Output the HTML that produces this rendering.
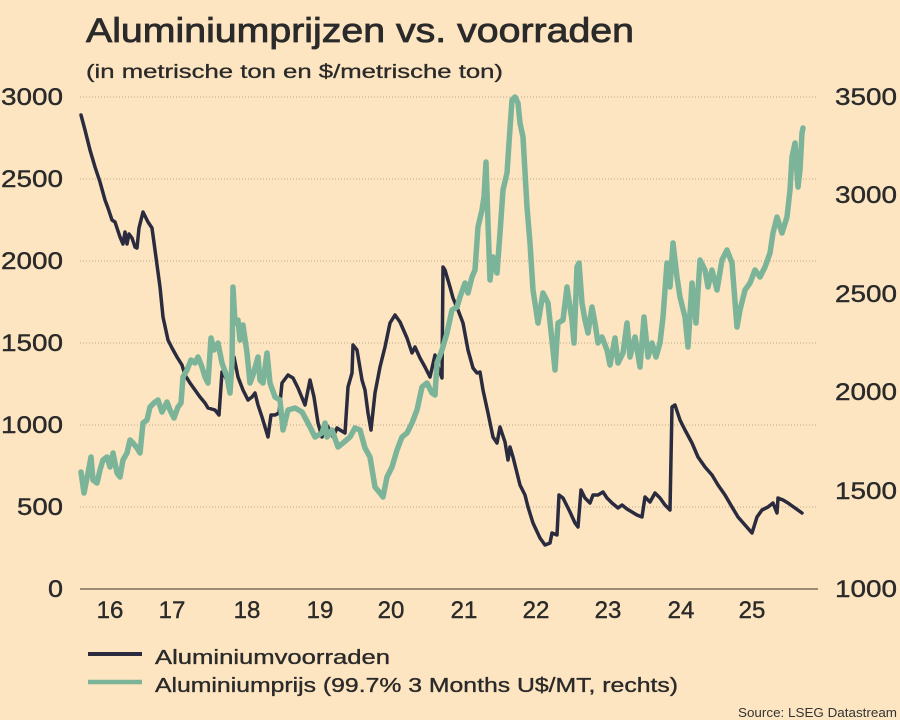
<!DOCTYPE html>
<html>
<head>
<meta charset="utf-8">
<style>
  html,body{margin:0;padding:0;background:#FCE5C0;}
  svg{display:block;}
  text{font-family:"Liberation Sans", sans-serif; fill:#2b2a2a;}
</style>
</head>
<body>
<svg width="900" height="720" viewBox="0 0 900 720" xmlns="http://www.w3.org/2000/svg">
  <rect x="0" y="0" width="900" height="720" fill="#FCE5C0"/>

  <!-- Title -->
  <text x="86" y="42" font-size="34" textLength="548" lengthAdjust="spacingAndGlyphs" stroke="#2b2a2a" stroke-width="0.8">Aluminiumprijzen vs. voorraden</text>
  <text x="86" y="78" font-size="19" textLength="417" lengthAdjust="spacingAndGlyphs" stroke="#2b2a2a" stroke-width="0.3">(in metrische ton en $/metrische ton)</text>

  <!-- Gridlines -->
  <g stroke="#b9a98f" stroke-width="1" stroke-dasharray="1,2">
    <line x1="80" y1="97" x2="818" y2="97"/>
    <line x1="80" y1="179" x2="818" y2="179"/>
    <line x1="80" y1="261" x2="818" y2="261"/>
    <line x1="80" y1="343" x2="818" y2="343"/>
    <line x1="80" y1="425" x2="818" y2="425"/>
    <line x1="80" y1="507" x2="818" y2="507"/>
  </g>
  <line x1="80" y1="589" x2="818" y2="589" stroke="#7d6e5b" stroke-width="1.5"/>

  <!-- Left axis labels -->
  <g font-size="24" stroke="#2b2a2a" stroke-width="0.4">
    <text x="1" y="105" textLength="62" lengthAdjust="spacingAndGlyphs">3000</text>
    <text x="1" y="187" textLength="62" lengthAdjust="spacingAndGlyphs">2500</text>
    <text x="1" y="269" textLength="62" lengthAdjust="spacingAndGlyphs">2000</text>
    <text x="1" y="351" textLength="62" lengthAdjust="spacingAndGlyphs">1500</text>
    <text x="1" y="433" textLength="62" lengthAdjust="spacingAndGlyphs">1000</text>
    <text x="17" y="515" textLength="46" lengthAdjust="spacingAndGlyphs">500</text>
    <text x="48" y="597" textLength="15" lengthAdjust="spacingAndGlyphs">0</text>
  </g>

  <!-- Right axis labels -->
  <g font-size="24" stroke="#2b2a2a" stroke-width="0.4">
    <text x="835" y="105" textLength="62" lengthAdjust="spacingAndGlyphs">3500</text>
    <text x="835" y="203" textLength="62" lengthAdjust="spacingAndGlyphs">3000</text>
    <text x="835" y="302" textLength="62" lengthAdjust="spacingAndGlyphs">2500</text>
    <text x="835" y="400" textLength="62" lengthAdjust="spacingAndGlyphs">2000</text>
    <text x="835" y="499" textLength="62" lengthAdjust="spacingAndGlyphs">1500</text>
    <text x="835" y="597" textLength="62" lengthAdjust="spacingAndGlyphs">1000</text>
  </g>

  <!-- X axis labels -->
  <g font-size="24" text-anchor="middle" stroke="#2b2a2a" stroke-width="0.4">
    <text x="110" y="618">16</text>
    <text x="172" y="618">17</text>
    <text x="247" y="618">18</text>
    <text x="320" y="618">19</text>
    <text x="391" y="618">20</text>
    <text x="464" y="618">21</text>
    <text x="536" y="618">22</text>
    <text x="608" y="618">23</text>
    <text x="681" y="618">24</text>
    <text x="752" y="618">25</text>
  </g>

  <!-- Dark series: stocks -->
  <polyline fill="none" stroke="#2a2b3e" stroke-width="3.5" stroke-linejoin="round" stroke-linecap="round"
    points="81,115 85,130 90,150 95,167 100,182 105,200 108,208 112,220 115,222 120,237 123,244 125,232 127,244 129,234 132,238 135,247 137,248 139,228 143,212 148,222 152,228 155,250 160,287 163,317 168,340 172,348 177,357 182,365 185,375 190,383 195,390 200,397 205,403 208,408 215,410 219,415 222,372 225,376 230,387 234,357 238,377 243,390 248,400 252,397 255,393 258,405 262,417 268,437 271,415 275,415 279,413 282,383 288,375 293,378 298,388 305,405 310,380 314,397 318,423 322,437 325,423 328,427 333,437 337,428 340,430 345,433 348,387 352,373 353,345 357,350 362,380 365,390 368,413 371,430 375,393 380,367 385,347 390,323 395,315 400,322 407,338 412,353 415,347 420,358 425,367 430,377 435,355 438,367 442,378 443,267 445,270 450,287 453,298 458,310 463,323 468,350 473,368 477,373 480,372 483,390 488,413 493,437 497,443 500,427 505,442 508,460 510,447 513,457 517,473 520,485 525,495 528,507 533,523 540,538 545,545 550,543 552,533 557,535 559,495 563,498 568,508 570,512 575,523 578,527 581,490 585,498 590,503 593,495 598,495 603,492 607,498 612,503 618,508 622,505 627,509 632,512 637,515 642,517 645,497 650,502 655,493 660,498 665,505 670,510 672,407 675,405 680,420 685,430 692,443 698,457 705,467 712,475 718,485 725,495 732,507 738,517 745,525 752,533 757,517 762,510 768,507 773,503 777,513 778,498 783,500 788,503 795,508 802,513"/>

  <!-- Green series: price -->
  <polyline fill="none" stroke="#7cb49a" stroke-width="5.5" stroke-linejoin="round" stroke-linecap="round"
    points="81,472 84,493 88,473 91,457 93,480 97,483 100,470 103,460 107,457 110,467 113,453 117,473 120,477 123,460 127,453 130,440 133,443 137,448 140,453 143,423 147,420 150,407 155,402 158,400 162,412 167,402 170,410 174,418 178,407 181,403 183,377 187,370 191,360 195,363 198,357 202,367 205,377 208,383 211,338 214,350 218,343 222,363 227,377 230,393 232,363 233,287 235,323 238,320 240,340 243,325 247,353 250,383 253,375 258,357 260,380 263,383 267,353 270,383 275,397 280,400 283,430 288,410 295,408 302,412 308,423 315,437 322,433 325,423 327,437 332,430 338,447 343,443 350,437 355,428 360,430 365,448 370,457 375,487 380,493 383,497 387,477 392,467 397,450 402,437 407,433 412,423 417,410 422,387 427,383 432,393 435,395 437,363 442,350 447,333 452,310 457,307 460,297 465,283 468,293 472,277 475,270 478,227 482,210 484,197 486,162 488,223 490,280 493,257 497,273 500,233 503,190 507,173 509,143 512,100 515,97 518,103 520,123 523,137 527,207 530,243 533,290 538,323 543,293 548,303 553,350 555,370 558,323 563,320 567,287 570,307 572,320 574,343 577,267 579,263 582,303 585,320 588,333 592,307 595,323 598,343 602,337 607,350 610,365 615,338 618,363 623,353 627,323 630,357 635,337 640,367 644,317 648,357 652,343 656,357 660,343 663,317 667,263 670,287 673,243 677,277 680,297 685,317 688,347 692,283 696,323 700,260 705,270 708,287 712,270 717,290 722,260 727,250 732,263 737,327 740,310 745,290 750,283 755,270 760,277 765,267 770,253 773,233 777,217 782,233 787,217 790,190 792,157 795,143 798,187 800,170 802,133 803,128"/>

  <!-- Legend -->
  <line x1="88" y1="654" x2="142" y2="654" stroke="#2a2b3e" stroke-width="4"/>
  <line x1="88" y1="682" x2="142" y2="682" stroke="#7cb49a" stroke-width="4.5"/>
  <text x="155" y="664" font-size="20" textLength="235" lengthAdjust="spacingAndGlyphs" stroke="#2b2a2a" stroke-width="0.35">Aluminiumvoorraden</text>
  <text x="155" y="692" font-size="20" textLength="523" lengthAdjust="spacingAndGlyphs" stroke="#2b2a2a" stroke-width="0.35">Aluminiumprijs (99.7% 3 Months U$/MT, rechts)</text>

  <!-- Source -->
  <text x="738" y="717" font-size="13" textLength="159" lengthAdjust="spacingAndGlyphs" style="fill:#333333">Source: LSEG Datastream</text>
</svg>
</body>
</html>
